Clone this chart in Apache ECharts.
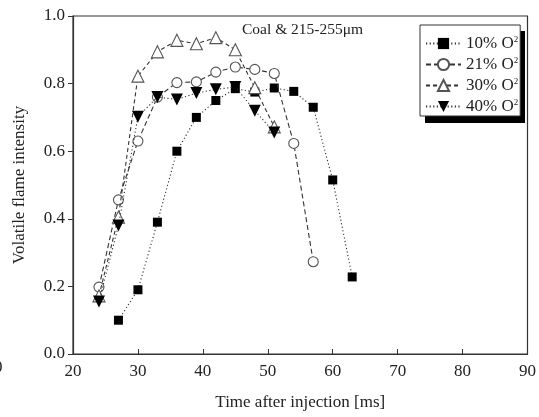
<!DOCTYPE html>
<html>
<head>
<meta charset="utf-8">
<script src="https://cdn.jsdelivr.net/npm/echarts@6/dist/echarts.min.js"></script>
<style>
  html, body { margin: 0; padding: 0; background: #fff; }
  #chart { width: 539px; height: 417px; }
</style>
</head>
<body>
<div id="chart"></div>
<script>
// Volatile flame intensity vs. time after injection, four oxygen concentrations
const seriesNames = ['10% O', '21% O', '30% O', '40% O'];

const time10 = [27, 30, 33, 36, 39, 42, 45, 48, 51, 54, 57, 60, 63];
const vals10 = [0.10, 0.19, 0.39, 0.60, 0.70, 0.75, 0.785, 0.775, 0.787, 0.777, 0.73, 0.515, 0.228];

const time21 = [24, 27, 30, 33, 36, 39, 42, 45, 48, 51, 54, 57];
const vals21 = [0.198, 0.456, 0.63, 0.76, 0.803, 0.805, 0.834, 0.849, 0.842, 0.83, 0.623, 0.273];

const time30 = [24, 27, 30, 33, 36, 39, 42, 45, 48, 51];
const vals30 = [0.172, 0.405, 0.822, 0.894, 0.928, 0.918, 0.936, 0.90, 0.788, 0.672];

const time40 = [24, 27, 30, 33, 36, 39, 42, 45, 48, 51];
const vals40 = [0.155, 0.38, 0.702, 0.76, 0.753, 0.772, 0.783, 0.79, 0.72, 0.655];

const xTicks = [20, 30, 40, 50, 60, 70, 80, 90];
const yTicks = [0.0, 0.2, 0.4, 0.6, 0.8, 1.0];

const FONT = '"Liberation Serif", "Times New Roman", serif';
const INK = '#222';
const FS = 17;

function pairs(xs, ys) { return xs.map((x, i) => [x, ys[i]]); }

const chart = echarts.init(document.getElementById('chart'), null, { renderer: 'canvas' });

const lineBase = { color: '#333', width: 1.1 };

chart.setOption({
  animation: false,
  backgroundColor: '#fff',
  title: {
    text: 'Coal & 215-255\u03bcm',
    left: 242, top: 22,
    padding: 0,
    textStyle: { fontFamily: FONT, fontSize: 15.5, fontWeight: 'normal', color: INK }
  },
  grid: {
    left: 73, right: 9, top: 16, bottom: 63,
    show: true, borderColor: '#333', borderWidth: 1.2, backgroundColor: 'transparent'
  },
  legend: {
    orient: 'vertical',
    left: 420, top: 25,
    padding: [10, 2, 1, 5],
    itemGap: 4,
    itemWidth: 35, itemHeight: 14,
    backgroundColor: '#fff',
    borderColor: '#333', borderWidth: 1,
    data: seriesNames,
    formatter: name => '{a|' + name + '}{s|2}',
    textStyle: {
      fontFamily: FONT, fontSize: FS, color: INK,
      rich: {
        a: { fontFamily: FONT, fontSize: FS, color: INK, lineHeight: 17 },
        s: { fontFamily: FONT, fontSize: 9, color: INK, verticalAlign: 'top', lineHeight: 17 }
      }
    }
  },
  graphic: [
    // drop shadow behind the legend box
    { type: 'rect', z: 0, shape: { x: 425, y: 31, width: 100, height: 92 }, style: { fill: '#000' } },
    { type: 'text', left: -6, top: 359, style: { text: '0', font: FS + 'px ' + FONT, fill: INK } }
  ],
  xAxis: {
    type: 'value', min: 20, max: 90, interval: 10,
    name: 'Time after injection [ms]',
    nameLocation: 'middle', nameGap: 40,
    nameTextStyle: { fontFamily: FONT, fontSize: FS, color: INK },
    axisLine: { lineStyle: { color: '#333', width: 1.2 } },
    axisTick: { inside: true, length: 5, lineStyle: { color: '#333' } },
    axisLabel: { fontFamily: FONT, fontSize: FS, color: INK, margin: 9,
      formatter: v => xTicks.includes(v) ? String(v) : '' },
    splitLine: { show: false }
  },
  yAxis: {
    type: 'value', min: 0, max: 1, interval: 0.2,
    name: 'Volatile flame intensity',
    nameLocation: 'middle', nameGap: 45,
    nameTextStyle: { fontFamily: FONT, fontSize: FS, color: INK },
    axisLine: { lineStyle: { color: '#333', width: 1.2 } },
    axisTick: { inside: false, length: 5, lineStyle: { color: '#333' } },
    axisLabel: { fontFamily: FONT, fontSize: FS, color: INK, margin: 8,
      formatter: v => yTicks.some(t => Math.abs(t - v) < 1e-9) ? v.toFixed(1) : '' },
    splitLine: { show: false }
  },
  series: [
    {
      name: seriesNames[0], type: 'line', data: pairs(time10, vals10),
      symbol: 'rect', symbolSize: 9,
      itemStyle: { color: '#000', borderColor: '#000', borderWidth: 0 },
      lineStyle: Object.assign({}, lineBase, { type: [1.2, 2.4] }),
      z: 2
    },
    {
      name: seriesNames[1], type: 'line', data: pairs(time21, vals21),
      symbol: 'circle', symbolSize: 10,
      itemStyle: { color: '#fff', borderColor: '#555', borderWidth: 1.1 },
      lineStyle: Object.assign({}, lineBase, { type: [5, 3] }),
      z: 3
    },
    {
      name: seriesNames[2], type: 'line', data: pairs(time30, vals30),
      symbol: 'triangle', symbolSize: 12,
      itemStyle: { color: '#fff', borderColor: '#555', borderWidth: 1.1 },
      lineStyle: Object.assign({}, lineBase, { type: [4, 3] }),
      z: 4
    },
    {
      name: seriesNames[3], type: 'line', data: pairs(time40, vals40),
      symbol: 'triangle', symbolRotate: 180, symbolSize: 12,
      itemStyle: { color: '#000', borderColor: '#000', borderWidth: 0 },
      lineStyle: Object.assign({}, lineBase, { type: [1.2, 2.4] }),
      z: 5
    }
  ]
});
</script>
</body>
</html>
